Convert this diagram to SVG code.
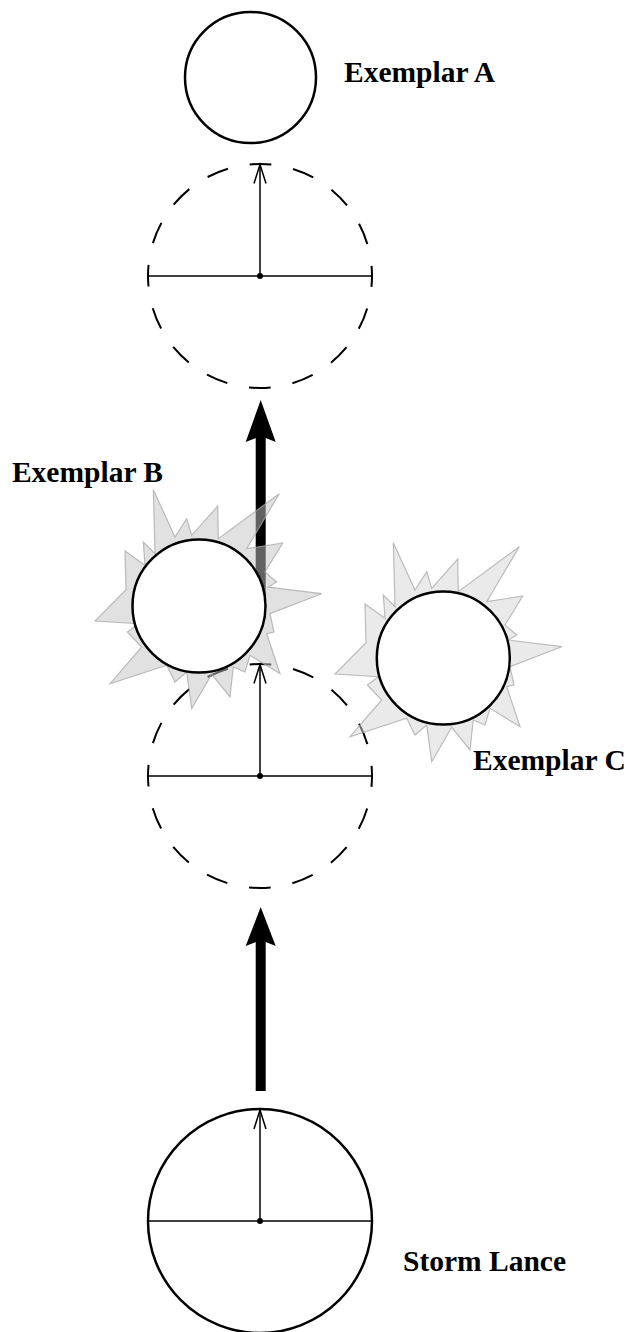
<svg xmlns="http://www.w3.org/2000/svg" xmlns:xlink="http://www.w3.org/1999/xlink" width="631" height="1332" viewBox="0 0 631 1332">
  <style>
    .solid { fill: #ffffff; stroke: #000000; stroke-width: 2.5; }
    .dashed { fill: none; stroke: #000000; stroke-width: 2; stroke-dasharray: 21.99 21.99; stroke-dashoffset: 11; }
    .diam { stroke: #000000; stroke-width: 1.5; fill: none; }
    .radius { stroke: #000000; stroke-width: 1.5; fill: none; marker-end: url(#open); }
    .dot { fill: #000000; }
    .shaft { stroke: #000000; stroke-width: 10; fill: none; }
    .head { fill: #000000; stroke: none; }
    .spikeB { fill: #c4c4c4; fill-opacity: 0.5; stroke: #a8a8a8; stroke-opacity: 0.75; stroke-width: 1.2; }
    .spikeC { fill: #d6d6d6; fill-opacity: 0.5; stroke: #a8a8a8; stroke-opacity: 0.75; stroke-width: 1.2; }
    .label { font-family: "Liberation Serif", "DejaVu Serif", serif; font-weight: bold; font-size: 29.5px; fill: #000000; }
  </style>
  <defs>
    <marker id="open" markerUnits="userSpaceOnUse" markerWidth="24" markerHeight="16" refX="0" refY="0" orient="auto" overflow="visible">
      <path d="M-19,-6 L0,0 L-19,6" fill="none" stroke="#000000" stroke-width="1.5"/>
    </marker>
    <polygon id="spikes" points="-49.7,-115.3 -28,-68 -16.3,-86.3 -11.3,-69.7 14.7,-99 15.3,-66.3 76.3,-111.3 43.7,-56.3 79.7,-62 62,-33 73.7,-23 65.3,-18 118.7,-11.3 67,8.7 71,27 63.7,28.7 77,68.7 47,50.3 42,67 30.3,62 27,92 8.7,69.3 -11.3,103.7 -16.3,67 -28,77 -36.3,60.3 -93,78.7 -61.3,42 -75.7,27 -64.7,18.7 -108,16 -77,-15.3 -78,-54 -58,-39.7 -59.7,-63 -48,-51.3"/>
  </defs>

  <g id="ghost-upper">
    <circle class="dashed" cx="260" cy="276" r="112"/>
    <line class="diam" x1="148" y1="276" x2="372" y2="276"/>
    <line class="radius" x1="260" y1="276" x2="260" y2="164.5"/>
    <circle class="dot" cx="260" cy="276" r="3"/>
  </g>

  <g id="ghost-lower">
    <circle class="dashed" cx="260" cy="776" r="112"/>
    <line class="diam" x1="148" y1="776" x2="372" y2="776"/>
    <line class="radius" x1="260" y1="776" x2="260" y2="664.5"/>
    <circle class="dot" cx="260" cy="776" r="3"/>
  </g>

  <g id="connectors">
    <line class="shaft" x1="260.7" y1="1091" x2="260.7" y2="940"/>
    <path class="head" d="M260.7,907 L275.7,946 L260.7,940 L245.7,946 Z"/>
    <line class="shaft" x1="260.7" y1="600" x2="260.7" y2="436"/>
    <path class="head" d="M260.7,400 L275.7,442 L260.7,436 L245.7,442 Z"/>
  </g>

  <g id="exemplar-a">
    <circle class="solid" cx="250.5" cy="77.5" r="65.5"/>
    <text class="label" x="344" y="82">Exemplar A</text>
  </g>

  <g id="exemplar-b">
    <use xlink:href="#spikes" href="#spikes" class="spikeB" transform="translate(203,605)"/>
    <circle class="solid" cx="199" cy="606" r="66.5"/>
    <text class="label" x="163" y="482" text-anchor="end">Exemplar B</text>
  </g>

  <g id="exemplar-c">
    <use xlink:href="#spikes" href="#spikes" class="spikeC" transform="translate(443,658)"/>
    <circle class="solid" cx="443.3" cy="658" r="66.5"/>
    <text class="label" x="473" y="770">Exemplar C</text>
  </g>

  <g id="storm-lance">
    <circle class="solid" cx="260" cy="1221" r="112"/>
    <line class="diam" x1="148" y1="1221" x2="372" y2="1221"/>
    <line class="radius" x1="260" y1="1221" x2="260" y2="1110"/>
    <circle class="dot" cx="260" cy="1221" r="3"/>
    <text class="label" x="403" y="1271">Storm Lance</text>
  </g>
</svg>
